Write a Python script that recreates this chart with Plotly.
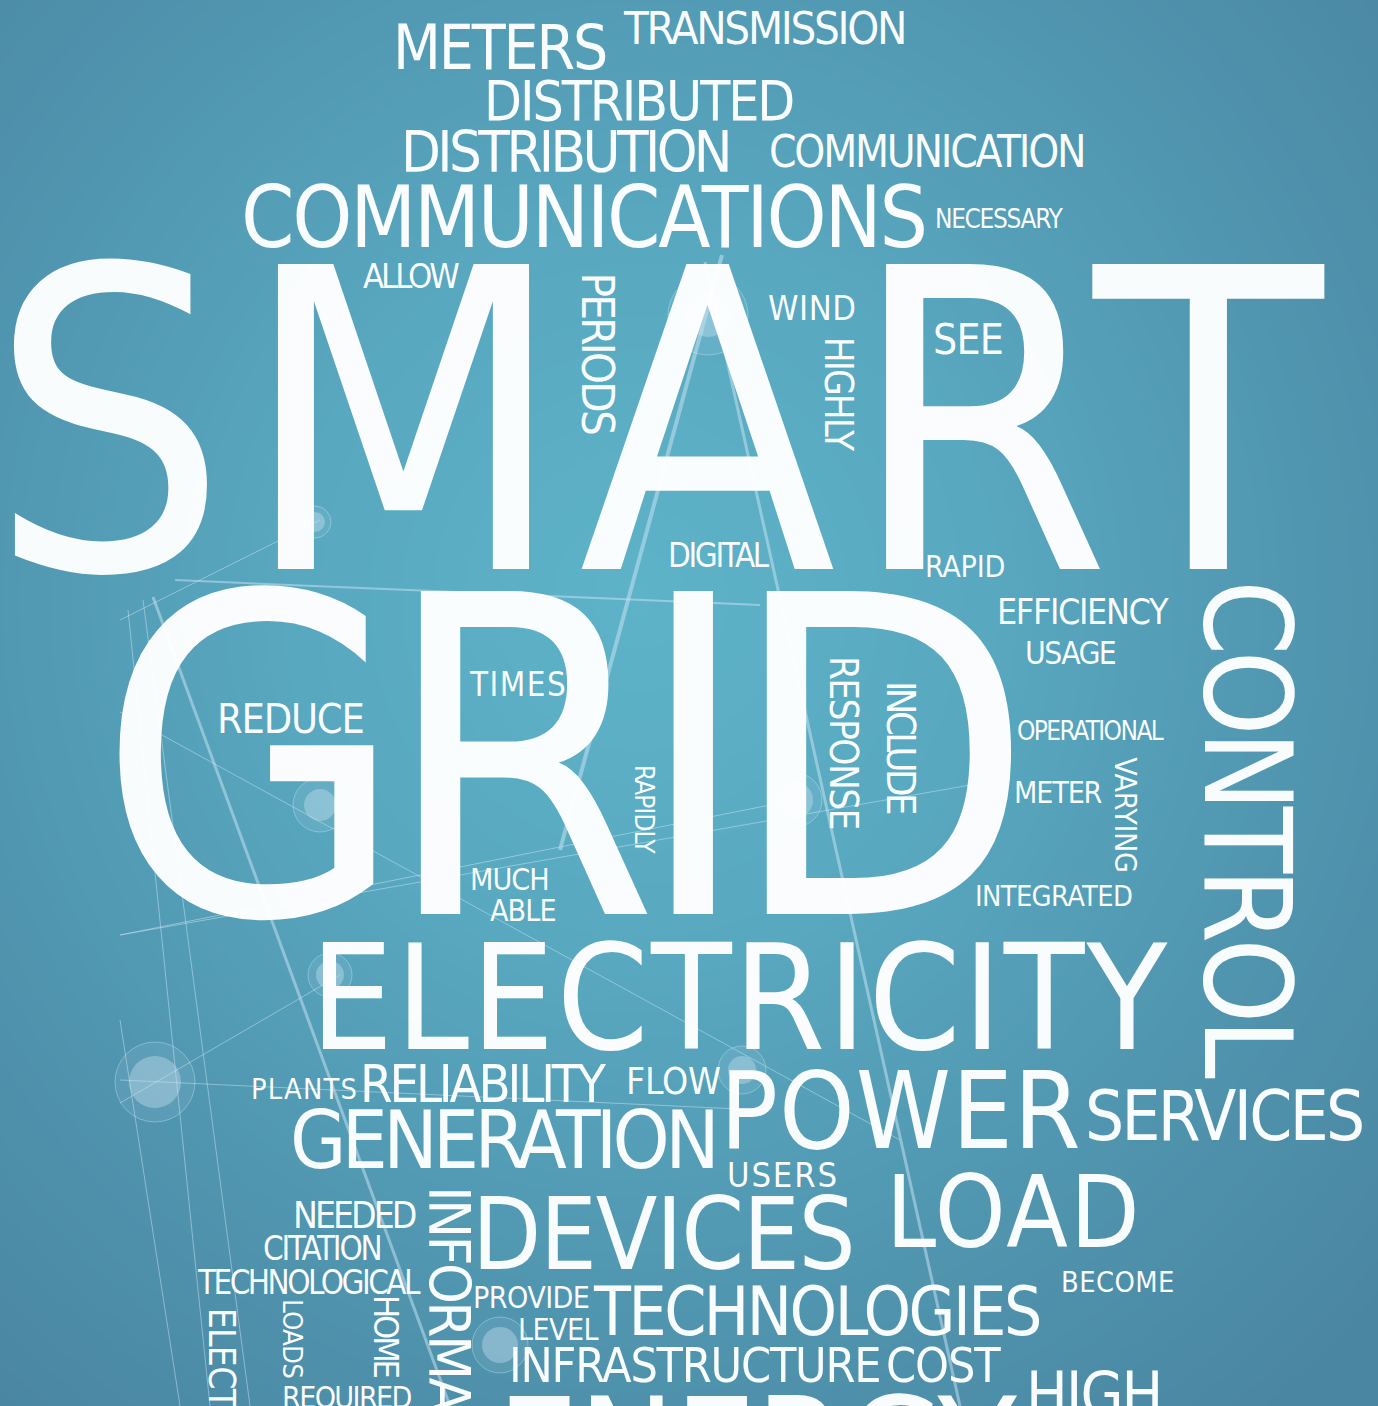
import numpy as np
import plotly.graph_objects as go

# ---------------- data: words of the cloud and their weight ----------------
words = [
    "METERS", "TRANSMISSION", "DISTRIBUTED", "DISTRIBUTION", "COMMUNICATION",
    "COMMUNICATIONS", "NECESSARY", "ALLOW", "SMART", "WIND", "SEE", "PERIODS",
    "HIGHLY", "DIGITAL", "RAPID", "EFFICIENCY", "USAGE", "GRID", "TIMES",
    "REDUCE", "RESPONSE", "INCLUDE", "RAPIDLY", "OPERATIONAL", "METER",
    "VARYING", "INTEGRATED", "CONTROL", "MUCH", "ABLE", "ELECTRICITY",
    "PLANTS", "RELIABILITY", "FLOW", "POWER", "SERVICES", "GENERATION",
    "USERS", "NEEDED", "CITATION", "TECHNOLOGICAL", "INFORMATION", "DEVICES",
    "LOAD", "BECOME", "PROVIDE", "LEVEL", "TECHNOLOGIES", "INFRASTRUCTURE",
    "COST", "HIGH", "ENERGY", "ELECTRICAL", "LOADS", "HOME", "REQUIRED",
]
weight = [
    45, 33, 40, 42, 32,
    62, 19, 25, 305, 25, 31, 33,
    28, 24, 22, 26, 23, 323, 24,
    30, 28, 29, 19, 19, 22,
    22, 21, 88, 22, 22, 107,
    21, 38, 27, 78, 50, 59,
    25, 27, 24, 24, 42, 73,
    73, 21, 22, 22, 49, 35,
    35, 45, 105, 27, 20, 25, 22,
]

# ---------------- placement of the cloud (layout only) ----------------
pos_x = [
    501, 765, 640, 567, 928,
    585, 1000, 413, 656, 812, 968, 598,
    840, 720, 965, 1084, 1071, 566, 517,
    291, 844, 902, 645, 1091, 1059,
    1126, 1054, 1249, 510, 523, 738,
    304, 485, 674, 901, 1225, 505,
    782, 356, 323, 310, 449, 664,
    1013, 1118, 531, 558, 818, 695,
    944, 1095, 757, 221, 293, 386, 348,
]
pos_y = [
    47, 28, 100, 151, 151,
    216, 219, 275, 417, 307, 339, 354,
    395, 555, 566, 611, 652, 752, 684,
    718, 743, 749, 810, 731, 792,
    815, 895, 832, 879, 910, 996,
    1088, 1083, 1081, 1109, 1115, 1138,
    1174, 1215, 1248, 1282, 1190, 1233,
    1211, 1281, 1297, 1329, 1311, 1364,
    1364, 1394, 1395, 1310, 1339, 1338, 1397,
]
extent = [
    208, 280, 305, 325, 316,
    684, 126, 94, 1315, 84, 66, 158,
    115, 100, 78, 168, 88, 885, 92,
    143, 170, 132, 90, 147, 85,
    116, 158, 485, 76, 63, 840,
    102, 240, 92, 348, 276, 430,
    106, 120, 121, 220, 337, 372,
    247, 110, 114, 77, 443, 369,
    109, 130, 510, 191, 78, 80, 127,
]
angle = [
    0, 0, 0, 0, 0,
    0, 0, 0, 0, 0, 0, 90,
    90, 0, 0, 0, 0, 0, 0,
    0, 90, 90, 90, 0, 0,
    90, 0, 90, 0, 0, 0,
    0, 0, 0, 0, 0, 0,
    0, 0, 0, 0, 90, 0,
    0, 0, 0, 0, 0, 0,
    0, 0, 0, 90, 90, 90, 0,
]
# words cut by the bottom edge are anchored by their visible start
top_anchored = {"ENERGY", "ELECTRICAL", "INFORMATION"}

FONT = "DejaVu Sans Condensed, DejaVu Sans, sans-serif"
CAP = 0.729          # cap height / em
ASC = 0.928          # ascent / em
COND = 0.9           # condensed width factor
ADV = dict(A=.684, B=.686, C=.698, D=.770, E=.632, F=.575, G=.775, H=.752,
           I=.295, J=.295, K=.656, L=.557, M=.863, N=.748, O=.787, P=.603,
           Q=.787, R=.695, S=.635, T=.611, U=.732, V=.684, W=.989, X=.685,
           Y=.611, Z=.685)
W, H = 1378, 1406

fig = go.Figure()

# background radial gradient
gx = np.linspace(0, W, 70)
gy = np.linspace(0, H, 72)
GX, GY = np.meshgrid(gx, gy)
dist = np.sqrt((GX - 640) ** 2 + ((GY - 600) / 1.05) ** 2)
fig.add_trace(go.Heatmap(
    x=gx, y=gy, z=dist, zsmooth="best", showscale=False, hoverinfo="skip",
    zmin=0, zmax=1000,
    colorscale=[[0.0, "#5eb3c8"], [0.35, "#58a8bf"], [0.7, "#5094ae"], [1.0, "#4a86a1"]],
))

# decorative network lines and nodes
line_col = "rgba(205,230,245,0.5)"
segments = [
    ((722, 255), (560, 850), 4),
    ((705, 262), (960, 1406), 3),
    ((175, 580), (760, 605), 2),
    ((153, 597), (450, 1406), 3),
    ((120, 712), (900, 1140), 1),
    ((120, 935), (1010, 778), 1),
    ((120, 1103), (340, 975), 1),
    ((120, 1080), (760, 1110), 1),
    ((143, 600), (250, 1406), 1),
    ((128, 610), (210, 1406), 1),
    ((120, 1020), (180, 1406), 1),
    ((320, 520), (120, 620), 1),
    ((795, 800), (120, 935), 1),
]
for (x0, y0), (x1, y1), w in segments:
    fig.add_shape(type="line", x0=x0, y0=y0, x1=x1, y1=y1, xref="x", yref="y",
                  line=dict(color=line_col, width=w), layer="above")

nodes = [(708, 315, 22, 40), (795, 800, 18, 27), (320, 805, 16, 27),
         (155, 1082, 26, 40), (330, 975, 14, 22), (315, 522, 10, 16),
         (742, 1070, 14, 24), (500, 1345, 18, 28)]
for cx, cy, r1, r2 in nodes:
    fig.add_shape(type="circle", x0=cx - r2, x1=cx + r2, y0=cy - r2, y1=cy + r2,
                  xref="x", yref="y", line=dict(color="rgba(205,230,245,0.4)", width=1),
                  fillcolor="rgba(205,230,245,0.10)", layer="above")
    fig.add_shape(type="circle", x0=cx - r1, x1=cx + r1, y0=cy - r1, y1=cy + r1,
                  xref="x", yref="y", line=dict(width=0),
                  fillcolor="rgba(200,225,240,0.40)", layer="above")

# words
for wd, wt, x, y, ext, a in zip(words, weight, pos_x, pos_y, extent, angle):
    s = wt / CAP
    n = len(wd)
    natural = (sum(ADV[c] for c in wd) * COND - 0.12) * s
    ls = (ext - natural) / max(n - 1, 1)
    text = f'<span style="letter-spacing:{ls:.2f}px">{wd}</span>'
    kw = {}
    if wd in top_anchored:
        if a == 0:
            yy = y - (ASC - CAP) * s - 1
        else:
            yy = y - 0.09 * s - 1
        kw.update(yanchor="top", y=yy)
    else:
        if a == 0:
            kw.update(yanchor="middle", y=y + 0.0185 * s, xshift=ls / 2)
        else:
            kw.update(yanchor="middle", y=y, yshift=-ls / 2, xshift=-0.0185 * s)
    fig.add_annotation(
        x=x, xref="x", yref="y", text=text, showarrow=False, textangle=a,
        xanchor="center",
        font=dict(family=FONT, size=s, color="rgba(255,255,255,0.97)"),
        **kw,
    )

fig.update_layout(
    width=W, height=H, autosize=False,
    margin=dict(l=0, r=0, t=0, b=0),
    paper_bgcolor="#4f90aa", plot_bgcolor="#4f90aa",
    xaxis=dict(range=[0, W], visible=False, fixedrange=True),
    yaxis=dict(range=[H, 0], visible=False, fixedrange=True),
    showlegend=False,
)

fig.write_html(
    "out.html",
    config={"displayModeBar": False},
    post_script="document.body.style.margin='0';document.body.style.overflow='hidden';",
)
